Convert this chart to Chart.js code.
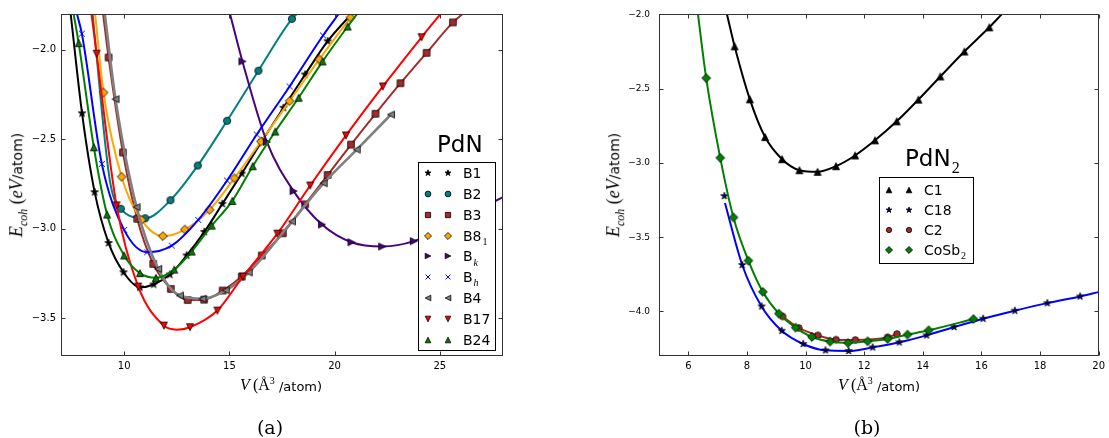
<!DOCTYPE html>
<html><head><meta charset="utf-8">
<script src="https://cdn.jsdelivr.net/npm/chart.js@4.4.1/dist/chart.umd.min.js"></script>
<style>
html,body{margin:0;padding:0;background:#fff;}
#wrap{position:relative;width:1109px;height:438px;overflow:hidden;background:#fff;}
canvas{position:absolute;top:0;}
#ca{left:0;} #cb{left:560px;}
.lab{position:absolute;white-space:nowrap;transform:translate(-50%,-50%);color:#000;line-height:1;}
.m{font-family:"Liberation Serif",serif;font-size:16px;}
.s{font-family:"DejaVu Sans",sans-serif;font-size:13px;}
.yt{transform:translate(-50%,-50%) rotate(-90deg);}
.yt .m{font-size:18px;}
.yt .s{font-size:14px;}
.cap{font-family:"DejaVu Serif",serif;font-size:19px;}
</style></head><body>
<div id="wrap">
<canvas id="ca" width="540" height="438"></canvas>
<canvas id="cb" width="549" height="438"></canvas>
<div class="lab" style="left:281px;top:385px"><span class="m"><i>V</i>&#8201;(Å<sup style="font-size:10px">3</sup></span><span class="s"> /atom)</span></div>
<div class="lab" style="left:879px;top:385px"><span class="m"><i>V</i>&#8201;(Å<sup style="font-size:10px">3</sup></span><span class="s"> /atom)</span></div>
<div class="lab yt" style="left:18px;top:185px"><span class="m"><i>E</i><sub style="font-size:12px"><i>coh</i></sub> (<i>eV</i></span><span class="s">/atom)</span></div>
<div class="lab yt" style="left:615px;top:185px"><span class="m"><i>E</i><sub style="font-size:12px"><i>coh</i></sub> (<i>eV</i></span><span class="s">/atom)</span></div>
<div class="lab cap" style="left:270px;top:427px">(a)</div>
<div class="lab cap" style="left:867px;top:427px">(b)</div>
</div>
<script>
// ===== Panel (a): PdN — volume V (Å^3/atom) and cohesive energy E (eV/atom) =====
const B1_V = [8.00, 8.60, 9.26, 9.97, 10.75, 11.40, 12.17, 12.97, 13.81, 14.67, 15.59, 16.55, 17.57, 18.60, 19.67];
const B1_E = [-2.355, -2.796, -3.080, -3.244, -3.328, -3.312, -3.257, -3.150, -3.018, -2.861, -2.692, -2.510, -2.324, -2.138, -1.952];
const B1_CURVE = [[7.46, -1.80], [20.80, -1.80]];

const B2_V = [9.84, 11.00, 12.20, 13.50, 14.89, 16.38, 17.97];
const B2_E = [-2.889, -2.942, -2.841, -2.647, -2.397, -2.117, -1.827];
const B2_CURVE = [[8.50, -1.80], [9.32, -2.730], [18.20, -1.80]];

const B3_V = [9.26, 9.94, 10.62, 11.38, 12.22, 13.02, 13.80, 14.68, 15.59, 16.54, 17.54, 18.60, 19.67, 20.78, 21.94, 23.13, 24.37, 25.62];
const B3_E = [-2.043, -2.574, -2.945, -3.197, -3.337, -3.399, -3.397, -3.346, -3.268, -3.150, -3.026, -2.864, -2.700, -2.530, -2.358, -2.187, -2.017, -1.847];
const B3_CURVE = [[9.00, -1.80], [26.07, -1.80]];

const B81_V = [9.02, 9.88, 10.83, 11.84, 12.88, 14.06, 15.24, 16.50, 17.86, 19.27, 20.75];
const B81_E = [-2.239, -2.710, -2.951, -3.042, -3.005, -2.895, -2.718, -2.513, -2.287, -2.054, -1.820];
const B81_CURVE = [[8.62, -1.80], [20.88, -1.80]];

const BK_V = [15.62, 16.78, 18.05, 19.40, 20.80, 22.26, 23.76];
const BK_E = [-2.065, -2.515, -2.790, -2.977, -3.076, -3.100, -3.070];
const BK_CURVE = [[15.03, -1.80], [28.00, -2.824]];

const BH_V = [7.99, 8.94, 10.00, 11.10, 12.26, 13.52, 14.89, 16.30, 17.86, 19.45];
const BH_E = [-1.910, -2.638, -3.007, -3.132, -3.095, -2.951, -2.731, -2.474, -2.205, -1.920];
const BH_CURVE = [[7.76, -1.80], [20.19, -1.80]];

const B4_V = [9.59, 10.59, 11.62, 12.65, 13.72, 14.83, 15.92, 17.97, 19.48, 21.05, 22.68];
const B4_E = [-2.276, -2.880, -3.225, -3.374, -3.392, -3.345, -3.245, -2.960, -2.746, -2.558, -2.362];
const B4_CURVE = [[9.08, -1.80]];

const B17_V = [8.69, 9.64, 10.67, 11.89, 13.13, 14.43, 15.64, 17.28, 18.84, 20.54, 22.29, 24.13];
const B17_E = [-2.022, -2.870, -3.324, -3.542, -3.551, -3.458, -3.268, -3.028, -2.759, -2.479, -2.205, -1.930];
const B17_CURVE = [[8.45, -1.80], [12.50, -3.565], [25.03, -1.80]];

const B24_V = [7.84, 8.56, 9.19, 10.00, 10.75, 11.51, 12.38, 13.21, 14.16, 15.14, 16.11, 17.18, 18.29, 19.43, 20.62];
const B24_E = [-1.963, -2.545, -2.921, -3.150, -3.249, -3.275, -3.229, -3.128, -2.983, -2.845, -2.651, -2.457, -2.268, -2.065, -1.870];
const B24_CURVE = [[7.60, -1.80], [21.07, -1.80]];

const labelsA = ['B1', 'B2', 'B3', 'B8_1', 'B_k', 'B_h', 'B4', 'B17', 'B24'];
const xTicksA = [10, 15, 20, 25];
const yTicksA = [-2.0, -2.5, -3.0, -3.5];

// ===== Panel (b): PdN2 =====
const C1_V = [7.58, 8.10, 8.62, 9.20, 9.79, 10.41, 11.04, 11.69, 12.37, 13.11, 13.85, 14.60, 15.42, 16.27];
const C1_E = [-2.215, -2.572, -2.826, -2.975, -3.049, -3.060, -3.022, -2.950, -2.848, -2.720, -2.574, -2.418, -2.250, -2.087];
const C1_CURVE = [[7.32, -2.00], [16.69, -2.00]];

const C18_V = [7.23, 7.84, 8.50, 9.19, 9.92, 10.68, 11.47, 12.29, 13.20, 14.13, 15.07, 16.06, 17.14, 18.25, 19.37];
const C18_E = [-3.223, -3.687, -3.966, -4.130, -4.219, -4.262, -4.266, -4.242, -4.208, -4.161, -4.105, -4.049, -3.995, -3.944, -3.899];
const C18_CURVE = [[7.25, -3.270], [20.00, -3.870]];

const C2_V = [9.22, 9.77, 10.42, 11.04, 11.70, 12.80, 13.12];
const C2_E = [-4.034, -4.111, -4.161, -4.190, -4.192, -4.174, -4.152];
const C2_CURVE = [];

const COSB2_V = [6.61, 7.09, 7.54, 8.05, 8.54, 9.09, 9.66, 10.22, 10.84, 11.45, 12.12, 12.80, 13.48, 14.20, 15.73];
const COSB2_E = [-2.429, -2.966, -3.367, -3.658, -3.868, -4.015, -4.109, -4.172, -4.203, -4.212, -4.201, -4.185, -4.156, -4.127, -4.051];
const COSB2_CURVE = [[6.33, -2.00]];

const labelsB = ['C1', 'C18', 'C2', 'CoSb_2'];
const xTicksB = [6, 8, 10, 12, 14, 16, 18, 20];
const yTicksB = [-2.0, -2.5, -3.0, -3.5, -4.0];

// ===== marker images =====
function makeMarker(shape, R, fill, edge, lw) {
  const pad = 2;
  let s = Math.ceil(2 * R + 2 * pad); if (s % 2) s++;
  const c = document.createElement('canvas'); c.width = s; c.height = s;
  const g = c.getContext('2d'); const cx = s / 2, cy = s / 2;
  g.beginPath();
  const poly = pts => { g.moveTo(cx + pts[0][0], cy + pts[0][1]); pts.slice(1).forEach(p => g.lineTo(cx + p[0], cy + p[1])); g.closePath(); };
  if (shape === 'circle') g.arc(cx, cy, R, 0, 2 * Math.PI);
  else if (shape === 'square') g.rect(cx - R, cy - R, 2 * R, 2 * R);
  else if (shape === 'diamond') poly([[0, -R], [R, 0], [0, R], [-R, 0]]);
  else if (shape === 'tu') poly([[0, -R], [R, R], [-R, R]]);
  else if (shape === 'td') poly([[0, R], [R, -R], [-R, -R]]);
  else if (shape === 'tl') poly([[-R, 0], [R, -R], [R, R]]);
  else if (shape === 'tr') poly([[R, 0], [-R, -R], [-R, R]]);
  else if (shape === 'star') {
    const pts = [];
    for (let k = 0; k < 10; k++) {
      const r = k % 2 ? R * 0.382 : R; const a = -Math.PI / 2 + k * Math.PI / 5;
      pts.push([r * Math.cos(a), r * Math.sin(a)]);
    }
    poly(pts);
  } else if (shape === 'x') {
    g.moveTo(cx - R, cy - R); g.lineTo(cx + R, cy + R); g.moveTo(cx + R, cy - R); g.lineTo(cx - R, cy + R);
    g.strokeStyle = fill; g.lineWidth = 1; g.stroke(); return c;
  }
  g.fillStyle = fill; g.fill();
  g.strokeStyle = edge; g.lineWidth = lw; g.stroke();
  return c;
}

function seriesList(defs) {
  return defs.map(d => ({...d, img: makeMarker(d.shape, d.R, d.fill, '#000', 0.8), leg: makeMarker(d.shape, d.R * 0.8, d.fill, '#000', 0.8)}));
}

const seriesA = seriesList([
  {V: B1_V, E: B1_E, C: B1_CURVE, line: '#000000', fill: '#000000', shape: 'star', R: 4.0},
  {V: B2_V, E: B2_E, C: B2_CURVE, line: '#008080', fill: '#008080', shape: 'circle', R: 3.6},
  {V: B3_V, E: B3_E, C: B3_CURVE, line: '#A52A2A', fill: '#A52A2A', shape: 'square', R: 3.3},
  {V: B81_V, E: B81_E, C: B81_CURVE, line: '#FFA500', fill: '#FFA500', shape: 'diamond', R: 4.4},
  {V: BK_V, E: BK_E, C: BK_CURVE, line: '#4B0082', fill: '#4B0082', shape: 'tr', R: 3.5},
  {V: BH_V, E: BH_E, C: BH_CURVE, line: '#0000FF', fill: '#0000FF', shape: 'x', R: 3.0},
  {V: B4_V, E: B4_E, C: B4_CURVE, line: '#808080', fill: '#808080', shape: 'tl', R: 3.5, lw: 2.6},
  {V: B17_V, E: B17_E, C: B17_CURVE, line: '#FF0000', fill: '#FF0000', shape: 'td', R: 3.5},
  {V: B24_V, E: B24_E, C: B24_CURVE, line: '#008000', fill: '#008000', shape: 'tu', R: 3.5}
]);
const seriesB = seriesList([
  {V: C1_V, E: C1_E, C: C1_CURVE, line: '#000000', fill: '#000000', shape: 'tu', R: 3.5},
  {V: C18_V, E: C18_E, C: C18_CURVE, skip: [0], line: '#0000FF', fill: '#000080', shape: 'star', R: 3.8},
  {V: C2_V, E: C2_E, C: C2_CURVE, line: '#A52A2A', fill: '#A52A2A', shape: 'circle', R: 3.3},
  {V: COSB2_V, E: COSB2_E, C: COSB2_CURVE, line: '#008000', fill: '#008000', shape: 'diamond', R: 4.4}
]);

function buildDatasets(series, labels) {
  const ds = [];
  series.forEach((s, i) => {
    const pts = s.V.map((v, k) => ({x: v, y: s.E[k]}));
    const curve = pts.filter((p, k) => !(s.skip || []).includes(k))
      .concat(s.C.map(p => ({x: p[0], y: p[1]})))
      .sort((a, b) => a.x - b.x);
    ds.push({label: labels[i] + ' fit', data: curve, borderColor: s.line, borderWidth: s.lw || 2,
      pointRadius: 0, pointHoverRadius: 0, cubicInterpolationMode: 'monotone', fill: false, clip: 0, order: 1000 - 2 * i});
    ds.push({label: labels[i], data: pts, showLine: false, pointStyle: s.img, pointRadius: 4, pointHoverRadius: 4,
      clip: 0, order: 999 - 2 * i});
  });
  return ds;
}

const fmtY = v => (v < 0 ? '\u2212' : '') + Math.abs(v).toFixed(1);

function framePlugin(xT, yT) {
  return {id: 'frame', afterDraw(chart) {
    const {ctx, chartArea: a, scales: {x, y}} = chart;
    ctx.save(); ctx.strokeStyle = '#333'; ctx.lineWidth = 1;
    const L = Math.round(a.left) + 0.5, R = Math.round(a.right) - 0.5, T = Math.round(a.top) + 0.5, B = Math.round(a.bottom) - 0.5;
    ctx.strokeRect(L, T, R - L, B - T);
    ctx.beginPath();
    xT.forEach(v => { const p = Math.round(x.getPixelForValue(v)) + 0.5; ctx.moveTo(p, B); ctx.lineTo(p, B - 4); ctx.moveTo(p, T); ctx.lineTo(p, T + 4); });
    yT.forEach(v => { const p = Math.round(y.getPixelForValue(v)) + 0.5; ctx.moveTo(L, p); ctx.lineTo(L + 4, p); ctx.moveTo(R, p); ctx.lineTo(R - 4, p); });
    ctx.stroke(); ctx.restore();
  }};
}

function drawLabel(ctx, text, x, y, size) {
  const parts = text.split('_');
  ctx.font = size + 'px "DejaVu Sans"'; ctx.fillText(parts[0], x, y);
  if (parts[1]) {
    const w = ctx.measureText(parts[0]).width;
    const it = /[a-z]/.test(parts[1]);
    ctx.font = (it ? 'italic ' : '') + Math.round(size * 0.68) + 'px "Liberation Serif"';
    ctx.fillText(parts[1], x + w + 1, y + size * 0.3);
  }
}

function legendPlugin(series, labels, box, title) {
  return {id: 'leg', afterDraw(chart) {
    const ctx = chart.ctx; ctx.save();
    ctx.fillStyle = '#000'; ctx.textBaseline = 'alphabetic'; ctx.textAlign = 'left';
    drawLabel(ctx, title.text, title.x, title.y, 23);
    ctx.fillStyle = '#fff'; ctx.fillRect(box.l, box.t, box.w, box.h);
    ctx.strokeStyle = '#000'; ctx.lineWidth = 1; ctx.strokeRect(box.l + 0.5, box.t + 0.5, box.w, box.h);
    series.forEach((s, i) => {
      const y = box.t + box.first + i * box.step;
      [box.m1, box.m2].forEach(mx => ctx.drawImage(s.leg, Math.round(box.l + mx - s.leg.width / 2), Math.round(y - s.leg.height / 2)));
      ctx.fillStyle = '#000';
      drawLabel(ctx, labels[i], box.l + box.tx, y + 5, 14);
    });
    ctx.restore();
  }};
}

function makeChart(id, series, labels, xr, yr, xT, yT, pad, yw, ypad, ysize, box, title) {
  return new Chart(document.getElementById(id), {
    type: 'line',
    data: {datasets: buildDatasets(series, labels)},
    options: {
      animation: false, responsive: false, events: [], devicePixelRatio: 1,
      layout: {padding: pad},
      plugins: {legend: {display: false}, tooltip: {enabled: false}},
      scales: {
        x: {type: 'linear', min: xr[0], max: xr[1],
          afterBuildTicks: s => { s.ticks = xT.map(v => ({value: v})); },
          afterFit: s => { s.height = 438 - 356 - pad.bottom; },
          grid: {display: false, drawTicks: false}, border: {display: false},
          ticks: {autoSkip: false, maxRotation: 0, padding: 4, color: '#000', font: {family: 'DejaVu Sans', size: 10}, callback: v => String(v)}},
        y: {type: 'linear', min: yr[0], max: yr[1],
          afterBuildTicks: s => { s.ticks = yT.map(v => ({value: v})); },
          afterFit: s => { s.width = yw; },
          grid: {display: false, drawTicks: false}, border: {display: false},
          ticks: {autoSkip: false, padding: ypad, color: '#000', font: {family: 'DejaVu Sans', size: ysize}, callback: fmtY}}
      }
    },
    plugins: [framePlugin(xT, yT), legendPlugin(series, labels, box, title)]
  });
}

makeChart('ca', seriesA, labelsA, [7, 28], [-3.712, -1.8], xTicksA, yTicksA,
  {left: 0, right: 37, top: 14, bottom: 0}, 61, 5, 10,
  {l: 418, t: 162, w: 77, h: 188, first: 11, step: 20.85, m1: 10, m2: 29.5, tx: 45},
  {text: 'PdN', x: 437, y: 152});
makeChart('cb', seriesB, labelsB, [5, 20], [-4.3, -2.0], xTicksB, yTicksB,
  {left: 0, right: 9, top: 14, bottom: 0}, 99, 9, 9,
  {l: 319, t: 177, w: 94, h: 86, first: 13, step: 20, m1: 10, m2: 29.7, tx: 45},
  {text: 'PdN_2', x: 345, y: 166});
</script>
</body></html>
